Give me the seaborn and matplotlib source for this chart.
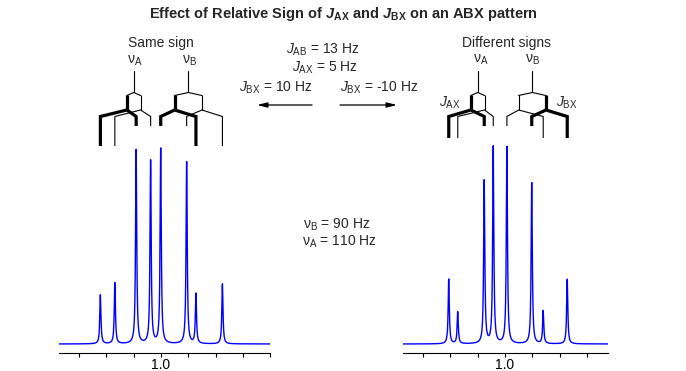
import numpy as np
import matplotlib
matplotlib.use('Agg')
import matplotlib.pyplot as plt
import seaborn as sns

sns.set_style('white')
plt.rcParams['font.family'] = ['Liberation Sans', 'DejaVu Sans']
plt.rcParams['mathtext.fontset'] = 'custom'
plt.rcParams['mathtext.rm'] = 'Liberation Sans'
plt.rcParams['mathtext.it'] = 'Liberation Sans:italic'
plt.rcParams['mathtext.bf'] = 'Liberation Sans:bold'
plt.rcParams['mathtext.bfit'] = 'Liberation Sans:italic:bold'

#peak positions (ppm) and heights
same_ppm = [1.222, 1.169, 1.091, 1.038, 1.001, 0.906, 0.872, 0.775]
same_int = [0.251, 0.313, 0.995, 0.938, 1.0, 0.933, 0.256, 0.308]
diff_ppm = [1.206, 1.173, 1.076, 1.043, 0.993, 0.902, 0.860, 0.772]
diff_int = [0.332, 0.164, 0.836, 1.009, 1.010, 0.826, 0.169, 0.332]

#tree diagram: chemical shifts and first splitting (J_AX / J_BX)
nu_ppm = [1.10, 0.90]
split_ppm = [1.125, 1.075, 0.95, 0.85]
thick_same = [True, False, True, False]
thick_diff = [True, False, False, True]
children = [(0, 2), (1, 3), (4, 6), (5, 7)]
long_lines = [0, 1, 6, 7]

ticks_left = [1.3, 1.2, 1.1, 1.0, 0.9, 0.8, 0.7, 0.6]
ticks_right = [1.3, 1.2, 1.1, 1.0, 0.9, 0.8, 0.7]
half_width = 0.0025

W, H = 686, 371
BASE, SCALE = 344, 195


def ydat(ypx):
    return (BASE - ypx) / SCALE


fig = plt.figure(figsize=(W / 100, H / 100), dpi=100)


def panel(x0, x1, xlim, ticks, ppm, inten, thick, bottoms):
    ax = fig.add_axes([x0 / W, 1 - 353.3 / H, (x1 - x0) / W, (353.3 - 60) / H])
    grid = np.union1d(np.linspace(xlim[1], xlim[0], 20000), ppm)
    spec = np.zeros_like(grid)
    for p, h in zip(ppm, inten):
        spec += h * half_width**2 / ((grid - p)**2 + half_width**2)
    sns.lineplot(x=grid, y=spec, ax=ax, color='#0000ff', linewidth=1,
                 estimator=None, sort=False)

    #stick tree above the spectrum
    stem_top, roof_top, roof_edge, split_y, leaf_top = [ydat(v) for v in (71, 92.5, 95.5, 110, 116.5)]
    long_b, short_b = ydat(bottoms[0]), ydat(bottoms[1])
    for n, nu in enumerate(nu_ppm):
        s0, s1 = split_ppm[2 * n], split_ppm[2 * n + 1]
        ax.plot([nu, nu], [stem_top, roof_top], color='black', lw=0.8)
        ax.plot([s0, nu, s1], [roof_edge, roof_top, roof_edge], color='black', lw=0.8)
    for s, tk, (c1, c2) in zip(split_ppm, thick, children):
        lw = 2.3 if tk else 0.8
        b1 = long_b if c1 in long_lines else short_b
        b2 = long_b if c2 in long_lines else short_b
        ax.plot([s, s], [roof_edge, split_y], color='black', lw=lw, solid_capstyle='butt')
        ax.plot([ppm[c1], ppm[c1], s, ppm[c2], ppm[c2]],
                [b1, leaf_top, split_y, leaf_top, b2],
                color='black', lw=lw, solid_capstyle='butt', solid_joinstyle='miter')

    ax.set_xlim(xlim)
    ax.set_ylim(-(353.3 - BASE) / SCALE, (BASE - 60) / SCALE)
    ax.set_xticks(ticks)
    ax.set_xticklabels(['1.0' if abs(t - 1.0) < 1e-6 else '' for t in ticks])
    ax.set_yticks([])
    for side in ['top', 'left', 'right']:
        ax.spines[side].set_visible(False)
    ax.spines['bottom'].set_linewidth(0.8)
    ax.spines['bottom'].set_color('black')
    ax.tick_params(axis='x', direction='out', length=3, width=0.8, pad=0.5,
                   labelsize=10, colors='black', bottom=True)
    ax.patch.set_alpha(0)
    ax.set_xlabel('')
    return ax


panel(59.3, 270.2, (1.3725, 0.600), ticks_left, same_ppm, same_int, thick_same, (146, 126))
panel(403.3, 608.3, (1.3725, 0.6216), ticks_right, diff_ppm, diff_int, thick_diff, (138, 126))


def txt(x, y, s, size=10, **kw):
    fig.text(x / W, 1 - y / H, s, ha='center', va='center', fontsize=size, **kw)


txt(343, 14, r'Effect of Relative Sign of $\mathbfit{J}_{\mathbf{AX}}$ and $\mathbfit{J}_{\mathbf{BX}}$ on an ABX pattern',
    size=10.5, fontweight='bold')
txt(161, 43, 'Same sign')
txt(507, 43, 'Different signs')
txt(135, 61, r'ν$_{\mathrm{A}}$')
txt(189, 61, r'ν$_{\mathrm{B}}$')
txt(481, 60, r'ν$_{\mathrm{A}}$')
txt(532, 60, r'ν$_{\mathrm{B}}$')
txt(450, 103, r'$J_{\mathrm{AX}}$')
txt(567, 103, r'$J_{\mathrm{BX}}$')
txt(323, 50, r'$J_{\mathrm{AB}}$ = 13 Hz')
txt(325, 68, r'$J_{\mathrm{AX}}$ = 5 Hz')
txt(276, 88, r'$J_{\mathrm{BX}}$ = 10 Hz')
txt(379, 88, r'$J_{\mathrm{BX}}$ = -10 Hz')
txt(337, 225, r'ν$_{\mathrm{B}}$ = 90 Hz')
txt(339, 242, r'ν$_{\mathrm{A}}$ = 110 Hz')

arrow = dict(arrowstyle='-|>,head_length=0.6,head_width=0.15', color='black',
             lw=0.9, mutation_scale=10, shrinkA=0, shrinkB=0)
fig.add_artist(matplotlib.patches.FancyArrowPatch((312 / W, 1 - 105 / H), (257 / W, 1 - 105 / H),
                                                  transform=fig.transFigure, **arrow))
fig.add_artist(matplotlib.patches.FancyArrowPatch((340 / W, 1 - 105 / H), (397 / W, 1 - 105 / H),
                                                  transform=fig.transFigure, **arrow))

fig.savefig('out.png', dpi=100, facecolor='white')
